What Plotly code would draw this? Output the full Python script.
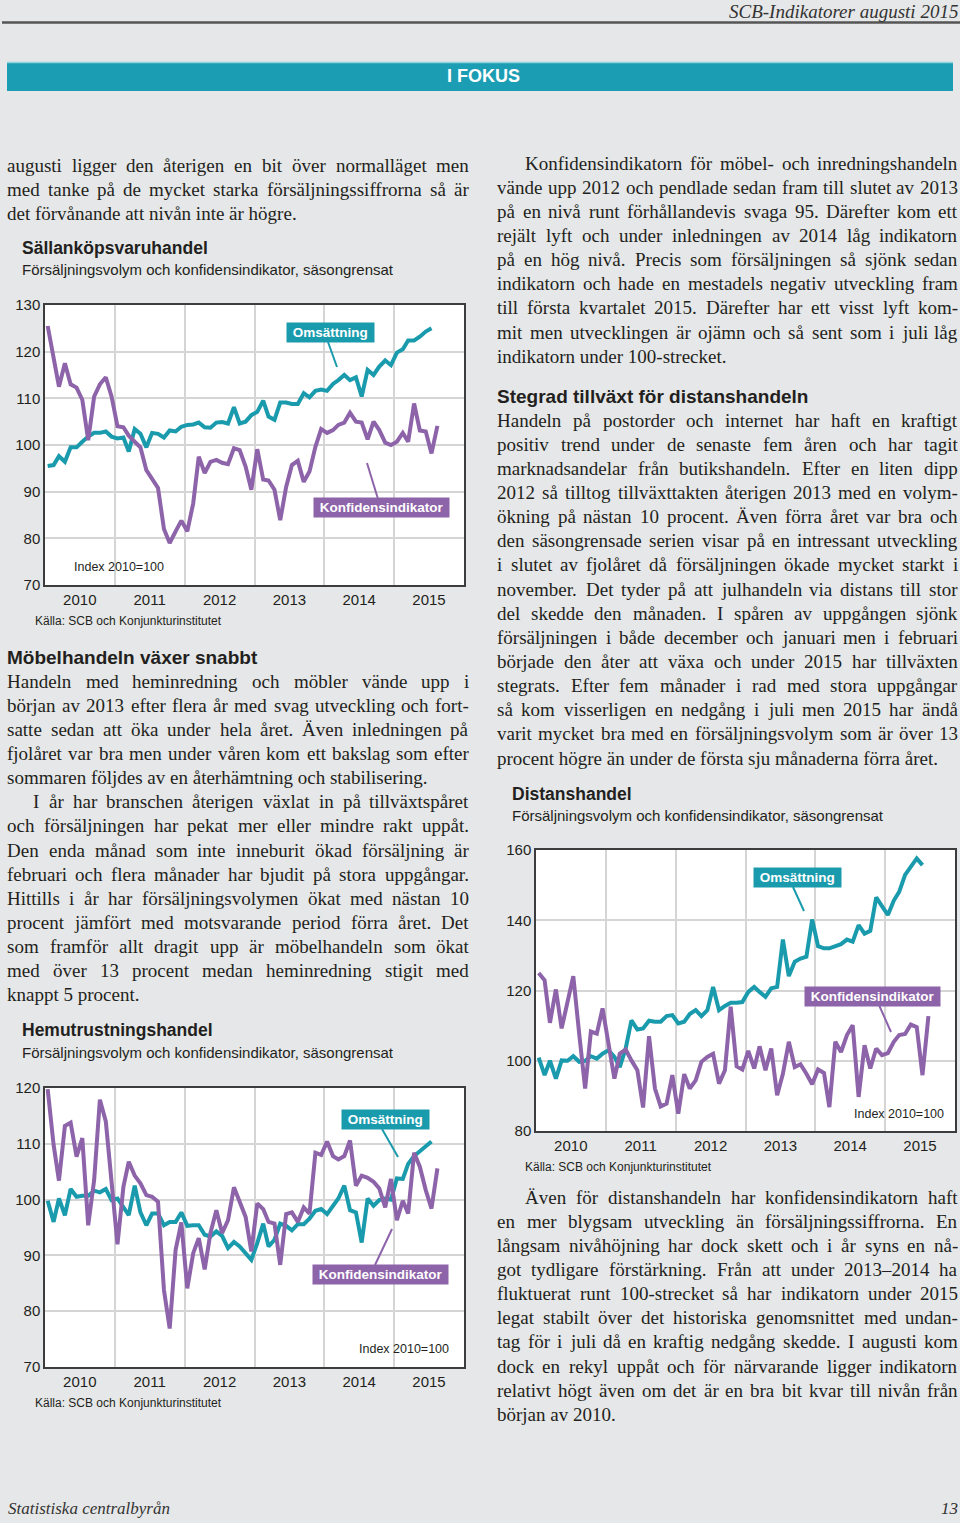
import pandas as pd
import plotly.graph_objects as go

# ---------------- DATA ----------------
years = [2010, 2011, 2012, 2013, 2014, 2015]
year_labels = ["2010", "2011", "2012", "2013", "2014", "2015"]

# Sällanköpsvaruhandel (Jan 2010 ->)
sal_oms = [95.5, 95.7, 97.6, 96.4, 99.5, 99.5, 100.7, 101.8, 102.6, 102.6, 102.9, 101.8,
           101.4, 101.6, 98.6, 103.4, 102.4, 99.5, 102.6, 102.4, 101.6, 103.1, 102.9, 103.9,
           104.3, 104.4, 104.8, 103.8, 103.7, 104.8, 104.9, 104.6, 108.1, 104.6, 105.0, 106.4,
           107.1, 109.5, 106.1, 105.4, 109.1, 109.1, 108.8, 108.8, 111.1, 110.2, 111.6, 111.9,
           111.6, 113.1, 113.9, 115.0, 113.9, 114.5, 110.4, 116.1, 115.0, 116.8, 118.1, 117.1,
           119.8, 120.5, 122.4, 122.4, 123.2, 124.3, 125.0]
sal_konf = [125.5, 118.0, 112.5, 117.5, 113.0, 112.3, 109.7, 101.0, 110.4, 113.0, 114.5, 110.4,
            104.0, 103.8, 102.0, 100.7, 99.5, 94.6, 92.7, 90.8, 82.0, 79.0, 81.5, 83.8,
            81.5, 87.5, 97.5, 94.0, 96.4, 96.8, 96.2, 95.9, 99.3, 98.9, 95.4, 90.4,
            99.1, 92.6, 92.4, 90.4, 83.9, 91.0, 95.7, 96.6, 92.1, 94.3, 99.6, 103.4,
            102.6, 103.2, 104.3, 104.8, 106.9, 105.0, 104.8, 101.2, 105.0, 103.2, 100.5, 100.0,
            100.7, 102.6, 100.7, 108.9, 103.1, 102.9, 98.2, 104.1]

# Hemutrustningshandel
hem_oms = [99.8, 96.0, 100.2, 97.2, 101.9, 100.5, 100.7, 100.7, 101.6, 101.3, 101.9, 99.9,
           100.2, 98.7, 97.2, 102.5, 97.7, 95.4, 97.5, 97.5, 95.4, 96.0, 96.0, 97.7,
           95.3, 95.4, 95.4, 93.7, 93.4, 94.3, 93.5, 91.3, 92.4, 91.6, 90.4, 89.2,
           92.2, 95.7, 91.6, 92.8, 95.7, 95.3, 94.5, 95.6, 95.6, 96.6, 98.0, 98.3,
           97.4, 98.9, 100.2, 102.5, 98.1, 97.7, 92.3, 100.2, 98.9, 99.9, 100.2, 100.0,
           103.8, 103.7, 106.4, 107.8, 108.6, 109.6, 110.4]
hem_konf = [119.8, 109.8, 103.4, 113.2, 113.8, 107.7, 111.0, 95.4, 103.5, 117.9, 114.0, 102.3,
            92.0, 102.3, 106.8, 104.3, 102.9, 100.8, 100.5, 99.6, 83.8, 76.9, 91.0, 95.9,
            84.1, 90.4, 93.1, 87.5, 94.0, 98.1, 94.0, 96.3, 102.2, 99.6, 96.9, 90.7,
            99.3, 98.3, 96.0, 95.7, 88.3, 97.4, 97.7, 96.0, 98.6, 97.5, 108.4, 108.0,
            110.4, 107.8, 107.2, 107.8, 110.6, 102.5, 104.3, 103.9, 103.2, 102.0, 98.6, 103.7,
            96.3, 99.8, 97.5, 108.4, 105.9, 101.7, 98.4, 105.6]

# Distanshandel
dist_oms = [100.9, 95.9, 100.0, 94.9, 100.1, 100.0, 101.3, 99.7, 100.0, 101.3, 100.6, 102.0,
            103.0, 101.1, 98.2, 103.5, 111.5, 108.9, 109.2, 111.4, 111.1, 111.1, 112.7, 113.0,
            110.6, 111.1, 113.3, 114.4, 112.7, 114.4, 121.0, 114.4, 115.6, 116.5, 116.5, 116.7,
            119.6, 121.0, 119.6, 118.2, 120.6, 121.0, 134.5, 124.1, 128.2, 129.1, 129.6, 140.2,
            132.6, 132.0, 132.0, 132.6, 133.2, 134.5, 133.9, 138.6, 136.2, 137.0, 146.5, 144.0,
            141.5, 145.6, 148.1, 152.9, 155.2, 157.6, 155.7]
dist_konf = [125.0, 122.9, 110.8, 120.3, 109.2, 116.8, 124.1, 107.6, 92.1, 108.3, 107.7, 114.9,
             105.4, 94.9, 102.0, 103.2, 100.1, 97.3, 86.7, 107.0, 92.1, 87.0, 87.8, 95.9,
             84.9, 96.2, 92.1, 94.4, 99.7, 101.1, 102.0, 93.5, 97.3, 115.4, 98.4, 97.5,
             102.8, 97.8, 104.1, 97.3, 103.5, 90.2, 96.3, 105.4, 98.2, 99.0, 96.3, 93.3,
             97.5, 96.5, 86.8, 105.4, 102.5, 107.3, 110.1, 89.7, 104.4, 97.8, 103.5, 101.6,
             102.2, 105.4, 107.3, 107.6, 110.3, 109.6, 95.9, 112.7]

# ---------------- TEXT ----------------
left_intro = ["augusti ligger den återigen en bit över normalläget men",
              "med tanke på de mycket starka försäljningssiffrorna så är",
              "det förvånande att nivån inte är högre."]
mobel_head = "Möbelhandeln växer snabbt"
mobel_lines = ["Handeln med heminredning och möbler vände upp i",
               "början av 2013 efter flera år med svag utveckling och fort-",
               "satte sedan att öka under hela året. Även inledningen på",
               "fjolåret var bra men under våren kom ett bakslag som efter",
               "sommaren följdes av en återhämtning och stabilisering.",
               "I år har branschen återigen växlat in på tillväxtspåret",
               "och försäljningen har pekat mer eller mindre rakt uppåt.",
               "Den enda månad som inte inneburit ökad försäljning är",
               "februari och flera månader har bjudit på stora uppgångar.",
               "Hittills i år har försäljningsvolymen ökat med nästan 10",
               "procent jämfört med motsvarande period förra året. Det",
               "som framför allt dragit upp är möbelhandeln som ökat",
               "med över 13 procent medan heminredning stigit med",
               "knappt 5 procent."]
right_intro = ["Konfidensindikatorn för möbel- och inredningshandeln",
               "vände upp 2012 och pendlade sedan fram till slutet av 2013",
               "på en nivå runt förhållandevis svaga 95. Därefter kom ett",
               "rejält lyft och under inledningen av 2014 låg indikatorn",
               "på en hög nivå. Precis som försäljningen så sjönk sedan",
               "indikatorn och hade en mestadels negativ utveckling fram",
               "till första kvartalet 2015. Därefter har ett visst lyft kom-",
               "mit men utvecklingen är ojämn och så sent som i juli låg",
               "indikatorn under 100-strecket."]
dist_head = "Stegrad tillväxt för distanshandeln"
dist_lines = ["Handeln på postorder och internet har haft en kraftigt",
              "positiv trend under de senaste fem åren och har tagit",
              "marknadsandelar från butikshandeln. Efter en liten dipp",
              "2012 så tilltog tillväxttakten återigen 2013 med en volym-",
              "ökning på nästan 10 procent. Även förra året var bra och",
              "den säsongrensade serien visar på en intressant utveckling",
              "i slutet av fjolåret då försäljningen ökade mycket starkt i",
              "november. Det tyder på att julhandeln via distans till stor",
              "del skedde den månaden. I spåren av uppgången sjönk",
              "försäljningen i både december och januari men i februari",
              "började den åter att växa och under 2015 har tillväxten",
              "stegrats. Efter fem månader i rad med stora uppgångar",
              "så kom visserligen en nedgång i juli men 2015 har ändå",
              "varit mycket bra med en försäljningsvolym som är över 13",
              "procent högre än under de första sju månaderna förra året."]
final_lines = ["Även för distanshandeln har konfidensindikatorn haft",
               "en mer blygsam utveckling än försäljningssiffrorna. En",
               "långsam nivåhöjning har dock skett och i år syns en nå-",
               "got tydligare förstärkning. Från att under 2013–2014 ha",
               "fluktuerat runt 100-strecket så har indikatorn under 2015",
               "legat stabilt över det historiska genomsnittet med undan-",
               "tag för i juli då en kraftig nedgång skedde. I augusti kom",
               "dock en rekyl uppåt och för närvarande ligger indikatorn",
               "relativt högt även om det är en bra bit kvar till nivån från",
               "början av 2010."]

# ---------------- STYLE ----------------
W, H = 960, 1523
BG = "#e6e7e8"
TEAL = "#1a9bad"
PURPLE = "#8d63a9"
GRID = "#d5d5d5"
FRAME = "#3d3d3d"
SANS = "Liberation Sans, Arial, sans-serif"
SERIF = "Liberation Serif, Times New Roman, serif"
TXT = "#231f20"

# approximate advance widths (Times-compatible metrics, 1/1000 em) for justification
CW = {" ": 250, "a": 444, "b": 500, "c": 444, "d": 500, "e": 444, "f": 333, "g": 500, "h": 500,
      "i": 278, "j": 278, "k": 500, "l": 278, "m": 778, "n": 500, "o": 500, "p": 500, "q": 500,
      "r": 333, "s": 389, "t": 278, "u": 500, "v": 500, "w": 722, "x": 500, "y": 500, "z": 444,
      "å": 444, "ä": 444, "ö": 500, ".": 250, ",": 250, "-": 333, "–": 500, ":": 278,
      "A": 722, "B": 667, "C": 667, "D": 722, "E": 611, "F": 556, "G": 722, "H": 722, "I": 333,
      "J": 389, "K": 722, "L": 611, "M": 889, "N": 722, "O": 722, "P": 556, "R": 667, "S": 556,
      "T": 611, "U": 722, "V": 722, "W": 944, "Ä": 722, "Å": 722, "Ö": 722}


def X(px):
    return px / W


def Y(py):
    return 1 - py / H


def month_dates(n):
    return pd.date_range("2010-01-01", periods=n, freq="MS") + pd.Timedelta(days=14)


fig = go.Figure()
charts = [
    ("", sal_oms, sal_konf, (45, 464), (305, 585), (70, 130), 10),
    ("2", hem_oms, hem_konf, (45, 464), (1088, 1367), (70, 120), 10),
    ("3", dist_oms, dist_konf, (536, 955), (850, 1131), (80, 160), 20),
]

layout_axes = {}
for suf, oms, konf, (xl, xr), (yt, yb), (ymin, ymax), dt in charts:
    fig.add_trace(go.Scatter(x=month_dates(len(oms)), y=oms, mode="lines",
                             line=dict(color=TEAL, width=4), xaxis="x" + suf, yaxis="y" + suf,
                             showlegend=False, hoverinfo="skip"))
    fig.add_trace(go.Scatter(x=month_dates(len(konf)), y=konf, mode="lines",
                             line=dict(color=PURPLE, width=4), xaxis="x" + suf, yaxis="y" + suf,
                             showlegend=False, hoverinfo="skip"))
    layout_axes["xaxis" + suf] = dict(
        domain=[X(xl), X(xr)], anchor="y" + suf, type="date",
        range=["2010-01-01", "2016-01-01"],
        tickmode="array", tickvals=[f"{y}-07-02" for y in years], ticktext=year_labels,
        showgrid=False, ticks="", zeroline=False, automargin=False,
        showline=True, mirror=True, linecolor=FRAME, linewidth=1.5,
        tickfont=dict(family=SANS, size=15, color=TXT),
        minor=dict(tickmode="array", tickvals=[f"{y}-01-01" for y in years[1:]],
                   showgrid=True, gridcolor=GRID, gridwidth=1.5, ticks=""),
        fixedrange=True,
    )
    layout_axes["yaxis" + suf] = dict(
        domain=[Y(yb), Y(yt)], anchor="x" + suf, range=[ymin, ymax],
        tickmode="linear", tick0=ymin, dtick=dt, automargin=False,
        showgrid=True, gridcolor=GRID, gridwidth=1.5, ticks="", zeroline=False,
        showline=True, mirror=True, linecolor=FRAME, linewidth=1.5,
        tickfont=dict(family=SANS, size=15, color=TXT), fixedrange=True,
    )

annotations = []
shapes = []


def text(x, y, s, size, family=SANS, color=TXT, anchor="left"):
    annotations.append(dict(x=X(x), y=Y(y), xref="paper", yref="paper", text=s,
                            showarrow=False, xanchor=anchor, yanchor="middle",
                            borderpad=0, borderwidth=0,
                            font=dict(size=size, family=family, color=color)))


BODY = 19
LS = 24.15


def tw(s):
    return sum(CW.get(c, 500) for c in s) * BODY / 1000.0


def body_line(x0, x1, y, s, justify=True):
    words = s.split(" ")
    if not justify or len(words) < 2:
        text(x0, y, s, BODY, SERIF)
        return
    widths = [tw(w) for w in words]
    gap = (x1 - x0 - sum(widths)) / (len(words) - 1)
    if gap < tw(" ") * 0.6:
        text(x0, y, s, BODY, SERIF)
        return
    x = x0
    for i, (w, wd) in enumerate(zip(words, widths)):
        if i == len(words) - 1:
            text(x1, y, w, BODY, SERIF, anchor="right")
        else:
            text(x, y, w, BODY, SERIF)
        x += wd + gap


def label_box(x, y, s, color, p0, p1):
    shapes.append(dict(type="line", xref="paper", yref="paper",
                       x0=X(p0[0]), y0=Y(p0[1]), x1=X(p1[0]), y1=Y(p1[1]),
                       line=dict(color=color, width=2)))
    annotations.append(dict(x=X(x), y=Y(y), xref="paper", yref="paper",
                            text="<b>&nbsp;" + s + "&nbsp;</b>", showarrow=False,
                            xanchor="center", yanchor="middle", bgcolor=color, borderpad=2,
                            font=dict(size=13.5, family=SANS, color="white")))


# header / footer
shapes.append(dict(type="line", xref="paper", yref="paper", x0=X(2), x1=X(960), y0=Y(22.5), y1=Y(22.5),
                   line=dict(color="#555555", width=2.5)))
text(958, 11, "<i>SCB-Indikatorer augusti 2015</i>", 19, SERIF, "#333333", "right")
shapes.append(dict(type="rect", xref="paper", yref="paper", x0=X(7), x1=X(953), y0=Y(63), y1=Y(91),
                   fillcolor="#1b9db3", line=dict(width=0), layer="below"))
shapes.append(dict(type="line", xref="paper", yref="paper", x0=X(7), x1=X(953), y0=Y(62.5), y1=Y(62.5),
                   line=dict(color="#8fd3df", width=1.5)))
text(483, 76, "<b>I FOKUS</b>", 18, SANS, "white", "center")
text(8, 1508, "<i>Statistiska centralbyrån</i>", 17, SERIF, "#333333")
text(958, 1508, "<i>13</i>", 17, SERIF, "#333333", "right")

# body text (justified columns)
L0, L1 = 7, 469
R0, R1 = 497, 958
for k, s in enumerate(left_intro):
    body_line(L0, L1, 165 + k * LS, s, justify=(k < 2))
text(7, 657, "<b>" + mobel_head + "</b>", 19)
for k, s in enumerate(mobel_lines):
    body_line(33 if k == 5 else L0, L1, 681 + k * LS, s, justify=(k not in (4, 13)))
for k, s in enumerate(right_intro):
    body_line(525 if k == 0 else R0, R1, 163 + k * LS, s, justify=(k != 8))
text(497, 396, "<b>" + dist_head + "</b>", 19)
for k, s in enumerate(dist_lines):
    body_line(R0, R1, 420 + k * LS, s, justify=(k != 14))
for k, s in enumerate(final_lines):
    body_line(525 if k == 0 else R0, R1, 1197 + k * LS, s, justify=(k != 9))

# chart 1 texts
text(22, 248, "<b>Sällanköpsvaruhandel</b>", 17.5)
text(22, 270, "Försäljningsvolym och konfidensindikator, säsongrensat", 15)
text(74, 567, "Index 2010=100", 12.5)
text(35, 621, "Källa: SCB och Konjunkturinstitutet", 12)
label_box(330, 332, "Omsättning", TEAL, (328, 342), (337, 367))
label_box(381, 508, "Konfidensindikator", PURPLE, (378, 499), (367, 463))

# chart 2 texts
text(22, 1030, "<b>Hemutrustningshandel</b>", 17.5)
text(22, 1052, "Försäljningsvolym och konfidensindikator, säsongrensat", 15)
text(449, 1349, "Index 2010=100", 12.5, anchor="right")
text(35, 1403, "Källa: SCB och Konjunkturinstitutet", 12)
label_box(385, 1119, "Omsättning", TEAL, (382, 1129), (398, 1157))
label_box(380, 1274, "Konfidensindikator", PURPLE, (375, 1265), (392, 1229))

# chart 3 texts
text(512, 794, "<b>Distanshandel</b>", 17.5)
text(512, 815, "Försäljningsvolym och konfidensindikator, säsongrensat", 15)
text(944, 1114, "Index 2010=100", 12.5, anchor="right")
text(525, 1167, "Källa: SCB och Konjunkturinstitutet", 12)
label_box(797, 877, "Omsättning", TEAL, (793, 887), (804, 911))
label_box(872, 996, "Konfidensindikator", PURPLE, (879, 1005), (891, 1032))

fig.update_layout(
    width=W, height=H, autosize=False,
    margin=dict(l=0, r=0, t=0, b=0, pad=0, autoexpand=False),
    paper_bgcolor=BG, plot_bgcolor="white",
    showlegend=False, annotations=annotations, shapes=shapes,
    **layout_axes,
)

css_fix = ("document.documentElement.style.margin='0';document.documentElement.style.padding='0';"
           "document.documentElement.style.overflow='hidden';"
           "document.body.style.margin='0';document.body.style.padding='0';"
           "document.body.style.overflow='hidden';document.body.style.background='" + BG + "';")

fig.write_html("out.html", config={"displayModeBar": False, "responsive": False},
               post_script=css_fix)
